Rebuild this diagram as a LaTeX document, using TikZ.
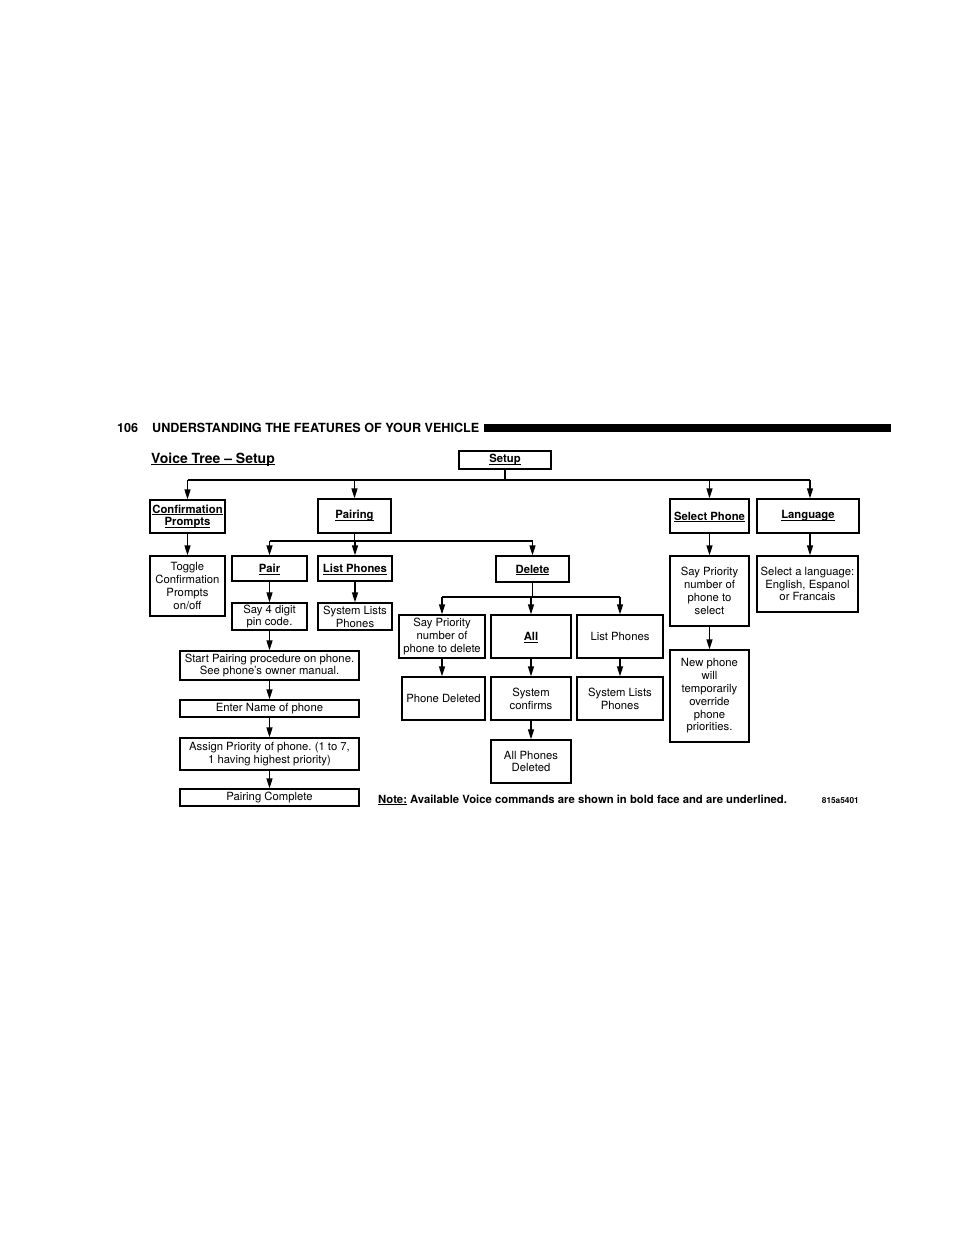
\documentclass[tikz,border=0pt]{standalone}
\usepackage{fontspec}
\setmainfont{TeX Gyre Heros}
\usetikzlibrary{arrows.meta}
\frenchspacing
\newcommand\myul[1]{\setbox0\hbox{#1}\rlap{\smash{\rule[-1.9pt]{\wd0}{0.8pt}}}\box0\relax}
\begin{document}
\begin{tikzpicture}[x=1pt,y=-1pt,
  box/.style={draw,line width=1.3pt,inner sep=0pt,align=center,font=\fontsize{11.3}{12.8}\selectfont},
  lbl/.style={anchor=base west,inner sep=0pt},
  conn/.style={line width=1.3pt},
  arr/.style={line width=1.3pt,-{Triangle[length=10pt,width=6pt]}}]
\useasboundingbox (0,0) rectangle (954,1235);
\fill[white] (0,0) rectangle (954,1235);
% header
\node[lbl,font=\bfseries\fontsize{12.6}{14}\selectfont] (pg) at (117,432) {106};
\node[lbl,font=\bfseries\fontsize{12.6}{14}\selectfont] (hdr) at (152,432) {UNDERSTANDING THE FEATURES OF YOUR VEHICLE};
\fill (484,424) rectangle (891,432);
\node[lbl,font=\bfseries\fontsize{14}{16}\selectfont] (title) at (151,463) {\myul{Voice Tree \textendash\ Setup}};
% boxes
\node[box,minimum width=92pt,minimum height=18pt] (setup) at (505,460) {\textbf{\myul{Setup}}};
\node[box,minimum width=75pt,minimum height=33pt] (conf) at (187.5,516.5) {\textbf{\myul{Confirmation}}\\\textbf{\myul{Prompts}}};
\node[box,minimum width=73pt,minimum height=34pt] (pairing) at (354.5,516) {\textbf{\myul{Pairing}}};
\node[box,minimum width=79pt,minimum height=34pt] (selph) at (709.5,516) {\textbf{\myul{Select Phone}}};
\node[box,minimum width=102pt,minimum height=34pt] (lang) at (808,516) {\textbf{\myul{Language}}};
\node[box,minimum width=75pt,minimum height=60pt] (toggle) at (187.5,586) {Toggle\\Confirmation\\Prompts\\on/off};
\node[box,minimum width=75pt,minimum height=25pt] (pair) at (269.5,568.5) {\textbf{\myul{Pair}}};
\node[box,minimum width=74pt,minimum height=25pt] (listph) at (355,568.5) {\textbf{\myul{List Phones}}};
\node[box,minimum width=73pt,minimum height=26pt] (delete) at (532.5,569) {\textbf{\myul{Delete}}};
\node[box,minimum width=75pt,minimum height=27pt] (say4) at (269.5,616.5) {Say 4 digit\\pin code.};
\node[box,minimum width=74pt,minimum height=27pt] (sysla) at (355,616.5) {System Lists\\Phones};
\node[box,minimum width=179pt,minimum height=29pt] (start) at (269.5,665.5) {Start Pairing procedure on phone.\\See phone’s owner manual.};
\node[box,minimum width=179pt,minimum height=17pt] (enter) at (269.5,708.5) {Enter Name of phone};
\node[box,minimum width=179pt,minimum height=32pt] (assign) at (269.5,754) {Assign Priority of phone. (1 to 7,\\1 having highest priority)};
\node[box,minimum width=179pt,minimum height=17pt] (complete) at (269.5,797.5) {Pairing Complete};
\node[box,minimum width=86pt,minimum height=43pt] (saydel) at (442,636.5) {Say Priority\\number of\\phone to delete};
\node[box,minimum width=80pt,minimum height=43pt] (all) at (531,636.5) {\textbf{\myul{All}}};
\node[box,minimum width=86pt,minimum height=43pt] (listphb) at (620,636.5) {List Phones};
\node[box,minimum width=83pt,minimum height=43pt] (phdel) at (443.5,698.5) {Phone Deleted};
\node[box,minimum width=80pt,minimum height=43pt] (syscon) at (531,698.5) {System\\confirms};
\node[box,minimum width=86pt,minimum height=43pt] (syslb) at (620,698.5) {System Lists\\Phones};
\node[box,minimum width=80pt,minimum height=43pt] (allph) at (531,761.5) {All Phones\\Deleted};
\node[box,minimum width=79pt,minimum height=70pt] (saysel) at (709.5,591) {Say Priority\\number of\\phone to\\select};
\node[box,minimum width=79pt,minimum height=92pt] (newph) at (709.5,696) {New phone\\will\\temporarily\\override\\phone\\priorities.};
\node[box,minimum width=101pt,minimum height=56pt] (sellang) at (807.5,584) {Select a language:\\English, Espanol\\or Francais};
% note
\node[lbl,font=\bfseries\fontsize{11.3}{13}\selectfont] (note) at (378,803) {\myul{Note:} Available Voice commands are shown in bold face and are underlined.};
\node[anchor=base east,inner sep=0pt,font=\bfseries\fontsize{8.3}{10}\selectfont] (code) at (859,803) {815a5401};
% top bus
\coordinate (b1) at (0,480);
\draw[conn] (setup.south) -- (setup.south |- b1);
\draw[conn] (conf.north |- b1) -- ([xshift=2pt]lang.north |- b1);
\draw[arr] (conf.north |- b1) -- (conf.north);
\draw[arr] (pairing.north |- b1) -- (pairing.north);
\draw[arr] (selph.north |- b1) -- (selph.north);
\draw[arr] ([xshift=2pt]lang.north |- b1) -- ([xshift=2pt]lang.north);
% pairing bus
\coordinate (b2) at (0,541);
\draw[conn] (pairing.south) -- (pairing.south |- b2);
\draw[conn] (pair.north |- b2) -- (delete.north |- b2);
\draw[arr] (pair.north |- b2) -- (pair.north);
\draw[arr] (listph.north |- b2) -- (listph.north);
\draw[arr] (delete.north |- b2) -- (delete.north);
% delete bus
\coordinate (b3) at (0,597);
\draw[conn] (delete.south) -- (delete.south |- b3);
\draw[conn] (saydel.north |- b3) -- (listphb.north |- b3);
\draw[arr] (saydel.north |- b3) -- (saydel.north);
\draw[arr] (all.north |- b3) -- (all.north);
\draw[arr] (listphb.north |- b3) -- (listphb.north);
% chains
\draw[arr] (conf.south) -- (toggle.north);
\draw[arr] (pair.south) -- (say4.north);
\draw[arr] (listph.south) -- (sysla.north);
\draw[arr] (say4.south) -- (start.north);
\draw[arr] (start.south) -- (enter.north);
\draw[arr] (enter.south) -- (assign.north);
\draw[arr] (assign.south) -- (complete.north);
\draw[arr] (saydel.south) -- (saydel.south |- phdel.north);
\draw[arr] (all.south) -- (syscon.north);
\draw[arr] (listphb.south) -- (syslb.north);
\draw[arr] (syscon.south) -- (allph.north);
\draw[arr] (selph.south) -- (saysel.north);
\draw[arr] (saysel.south) -- (newph.north);
\draw[arr] ([xshift=2pt]lang.south) -- ([xshift=2pt]lang.south |- sellang.north);
\end{tikzpicture}
\end{document}
